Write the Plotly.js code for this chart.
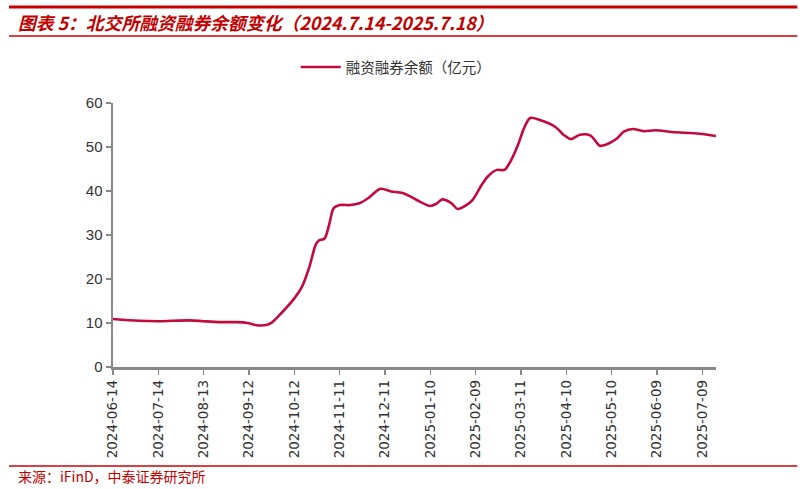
<!DOCTYPE html>
<html>
<head>
<meta charset="utf-8">
<script src="https://cdn.plot.ly/plotly-3.0.1.min.js"></script>
<style>html,body{margin:0;padding:0;background:#fff;}#chart{width:803px;height:489px;}</style>
</head>
<body>
<div id="chart"></div>
<script>
const dates = ['2024-06-14','2024-07-01','2024-07-14','2024-08-04','2024-08-13','2024-08-24','2024-09-04','2024-09-11','2024-09-17','2024-09-24','2024-09-27','2024-10-01','2024-10-12','2024-10-17','2024-10-22','2024-10-26','2024-10-28','2024-11-01','2024-11-04','2024-11-07','2024-11-11','2024-11-18','2024-11-24','2024-11-30','2024-12-08','2024-12-15','2024-12-22','2024-12-27','2025-01-03','2025-01-10','2025-01-14','2025-01-18','2025-01-24','2025-01-28','2025-02-02','2025-02-07','2025-02-13','2025-02-17','2025-02-23','2025-02-28','2025-03-04','2025-03-09','2025-03-13','2025-03-17','2025-03-23','2025-04-03','2025-04-08','2025-04-13','2025-04-19','2025-04-26','2025-05-02','2025-05-06','2025-05-13','2025-05-18','2025-05-24','2025-05-31','2025-06-08','2025-06-19','2025-07-07','2025-07-18'];
const balance = [10.9,10.5,10.4,10.6,10.4,10.2,10.2,10.0,9.5,9.6,10.1,11.4,15.6,18.2,22.8,27.7,28.7,29.2,32.3,36.1,36.8,36.8,37.2,38.4,40.5,39.9,39.6,38.9,37.6,36.6,37.1,38.1,37.2,35.9,36.6,38.0,41.4,43.3,44.8,44.8,46.7,50.5,54.3,56.6,56.2,54.5,52.8,51.8,52.8,52.6,50.3,50.5,51.8,53.5,54.1,53.6,53.8,53.4,53.0,52.5];
const tickDates = ['2024-06-14','2024-07-14','2024-08-13','2024-09-12','2024-10-12','2024-11-11','2024-12-11','2025-01-10','2025-02-09','2025-03-11','2025-04-10','2025-05-10','2025-06-09','2025-07-09'];
const seriesName = '融资融券余额（亿元）';
const titleText = '图表 5：北交所融资融券余额变化（2024.7.14-2025.7.18）';
const sourceText = '来源：iFinD，中泰证券研究所';

const trace = {
  x: dates, y: balance, type: 'scatter', mode: 'lines', name: seriesName,
  line: {color: '#C20A3C', width: 2.6, shape: 'spline', smoothing: 0.8}
};

const layout = {
  width: 803, height: 489,
  margin: {l: 113, r: 87, t: 103, b: 122},
  paper_bgcolor: '#fff', plot_bgcolor: '#fff',
  font: {family: 'Liberation Sans, Arial, sans-serif', color: '#333'},
  showlegend: true,
  legend: {x: 0.303, xanchor: 'left', y: 1.136, yanchor: 'middle', orientation: 'h',
           itemwidth: 40,
           font: {family: 'Noto Sans CJK SC, sans-serif', size: 14.5, color: '#333'},
           bgcolor: 'rgba(0,0,0,0)'},
  xaxis: {
    type: 'date', range: ['2024-06-14', '2025-07-18'],
    tickmode: 'array', tickvals: tickDates, ticktext: tickDates,
    tickangle: -90, tickfont: {family: 'DejaVu Sans, sans-serif', size: 13.5, color: '#333'},
    ticks: 'outside', ticklen: 5, tickwidth: 1.5, tickcolor: '#888',
    showline: true, linecolor: '#888', linewidth: 2.5, showgrid: false, zeroline: false
  },
  yaxis: {
    range: [0, 60], dtick: 10, tick0: 0,
    tickfont: {size: 15, color: '#333'},
    ticks: 'outside', ticklen: 5, tickwidth: 1.5, tickcolor: '#888',
    showline: true, linecolor: '#888', linewidth: 2.5, showgrid: false, zeroline: false
  },
  shapes: [
    {type: 'line', xref: 'paper', yref: 'paper', x0: -0.1725, x1: 1.135, y0: (367-7)/264, y1: (367-7)/264, line: {color: '#C80000', width: 3}},
    {type: 'line', xref: 'paper', yref: 'paper', x0: -0.1725, x1: 1.135, y0: (367-36)/264, y1: (367-36)/264, line: {color: '#D00000', width: 1.3}},
    {type: 'line', xref: 'paper', yref: 'paper', x0: -0.1725, x1: 1.135, y0: (367-466)/264, y1: (367-466)/264, line: {color: '#D00000', width: 1.3}}
  ],
  annotations: [
    {text: '<b><i>' + titleText + '</i></b>', xref: 'paper', yref: 'paper', x: (16-113)/603, y: (367-22)/264,
     xanchor: 'left', yanchor: 'middle', showarrow: false,
     font: {family: 'Noto Sans CJK SC, sans-serif', size: 17.8, color: '#C00000'}},
    {text: sourceText, xref: 'paper', yref: 'paper', x: (16-113)/603, y: (367-476)/264,
     xanchor: 'left', yanchor: 'middle', showarrow: false,
     font: {family: 'Noto Sans CJK SC, sans-serif', size: 14, color: '#C00000'}}
  ]
};

Plotly.newPlot('chart', [trace], layout, {displayModeBar: false, staticPlot: true});
</script>
</body>
</html>
